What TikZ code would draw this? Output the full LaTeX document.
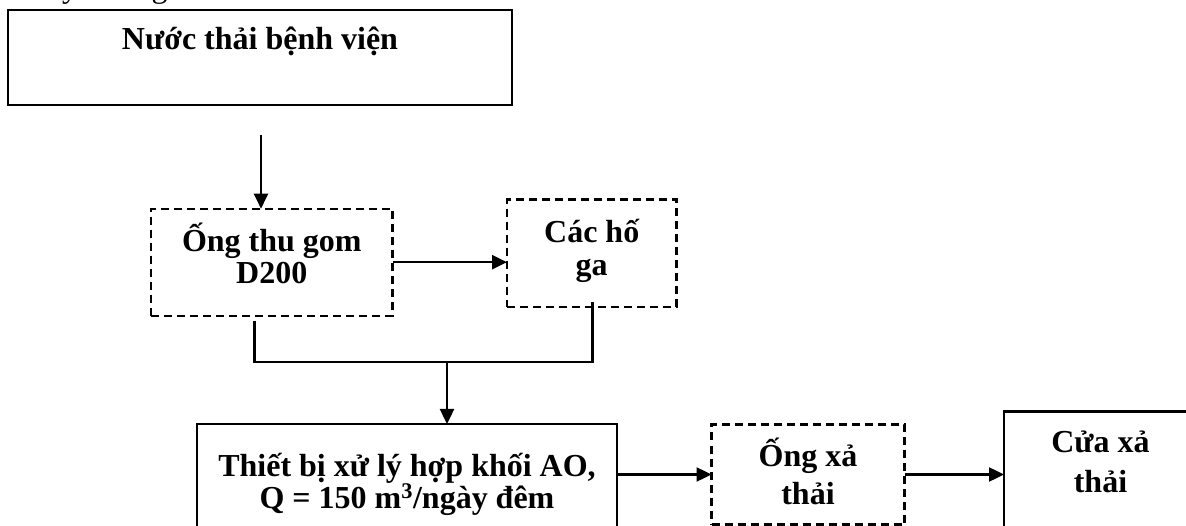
\documentclass[tikz,border=0pt]{standalone}
\usepackage{fontspec}
\setmainfont{Liberation Serif}
\usetikzlibrary{arrows.meta}
\begin{document}
\begin{tikzpicture}[x=1pt,y=-1pt,
  sbox/.style={draw=black,line width=2.6pt,minimum width=#1,inner sep=0pt,outer sep=0pt},
  dbox/.style={draw=black,line width=2.3pt,dash pattern=on 8pt off 5pt,inner sep=0pt,outer sep=0pt},
  txt/.style={font=\fontsize{32}{37}\selectfont\bfseries,inner sep=0pt,anchor=base},
  conn/.style={draw=black,line width=2.4pt},
  arr/.style={conn,-{Triangle[length=15pt,width=14pt]}}]
\useasboundingbox (0,0) rectangle (1186,526);
\clip (0,0) rectangle (1186,526);
% fragment of a line above the picture
\node[font=\fontsize{32}{37}\selectfont,inner sep=0pt,anchor=base west] (top) at (62,-2) {y\hspace{14pt} trong};
% boxes
\node[sbox=504pt,minimum height=95pt] (b1) at (260,57.5) {};
\node[dbox,minimum width=241.5pt,minimum height=107pt] (b2) at (271.8,262.2) {};
\node[dbox,minimum width=169.4pt,minimum height=107.2pt] (b3) at (591.7,253.2) {};
\node[sbox=420pt,minimum height=122pt] (b4) at (407,485) {};
\node[dbox,minimum width=193pt,minimum height=100pt] (b5) at (808,474.5) {};
\node[sbox=193pt,minimum height=125pt] (b6) at (1100.5,474) {};
% texts
\node[txt] (t1) at (260,50) {Nước thải bệnh viện};
\node[txt] (t2a) at (271.8,251.4) {Ống thu gom};
\node[txt] (t2b) at (271.8,284) {D200};
\node[txt] (t3a) at (591.7,242.5) {Các hố};
\node[txt] (t3b) at (591.7,276) {ga};
\node[txt] (t4a) at (407,476) {Thiết bị xử lý hợp khối AO,};
\node[txt] (t4b) at (407,508) {Q = 150 m\textsuperscript{3}/ngày đêm};
\node[txt] (t5a) at (808,466) {Ống xả};
\node[txt] (t5b) at (808,504.5) {thải};
\node[txt] (t6a) at (1100.5,452) {Cửa xả};
\node[txt] (t6b) at (1100.5,492) {thải};
% connectors
\coordinate (s1) at (261,135);
\draw[arr] (s1) -- (s1 |- b2.north);
\draw[arr] (b2.east) -- (b2.east -| b3.west);
\coordinate (jl) at (254.3,362);
\coordinate (jr) at (592.5,362);
\coordinate (jm) at (447,362);
\draw[conn] ([yshift=-5pt]b2.south -| jl) -- (jl) -- (jr) -- ([yshift=5pt]b3.south -| jr);
\draw[arr] (jm) -- (jm |- b4.north);
\draw[arr] (b5.west -| b4.east) -- (b5.west);
\draw[arr] (b5.east) -- (b5.east -| b6.west);
\end{tikzpicture}
\end{document}
